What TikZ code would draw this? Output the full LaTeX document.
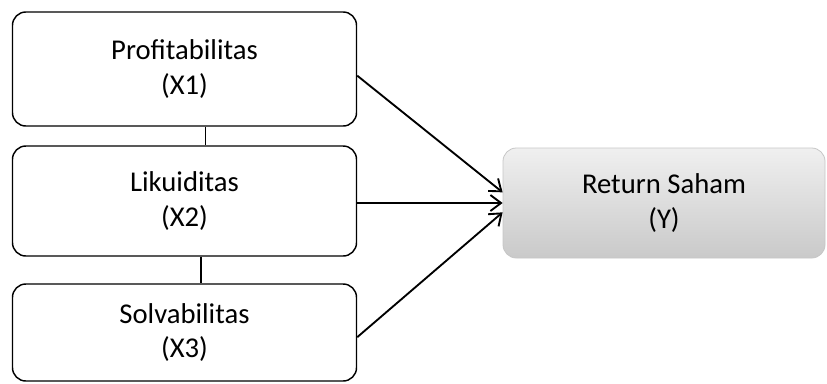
\documentclass[tikz,border=0pt]{standalone}
\usepackage{fontspec}
\setmainfont{Carlito}
\usetikzlibrary{arrows.meta}

\tikzset{
  varbox/.style={draw, line width=1.1pt, rounded corners=10pt, minimum width=258pt,
    align=center, inner sep=0pt, font=\fontsize{21.5}{26}\selectfont},
  resbox/.style={varbox, draw=gray!45, line width=0.6pt, top color=gray!12, bottom color=gray!42},
  link/.style={-{Straight Barb[length=8pt,width=12pt]}, line width=1.4pt},
}

\begin{document}
\begin{tikzpicture}[x=0.75pt,y=-0.75pt]  % one unit is one pixel of the reference
    \useasboundingbox (0,0) rectangle (827,383);

    % Draw the three independent variables
    \node[varbox, minimum height=85.5pt] (x1) at (184.5,69) {Profitabilitas\\(X1)};
    \node[varbox, minimum height=82.5pt] (x2) at (184.5,201) {Likuiditas\\(X2)};
    \node[varbox, minimum height=72.75pt] (x3) at (184.5,332.5) {Solvabilitas\\(X3)};

    % Draw the dependent variable
    \node[resbox, minimum width=241.5pt, minimum height=82.5pt] (y) at (664,203) {Return Saham\\(Y)};

    % Vertical ties between the boxes
    \draw[line width=0.9pt] ([xshift=16pt]x1.south) -- ([xshift=16pt]x2.north);
    \draw[line width=1.8pt] ([xshift=12.4pt]x2.south) -- ([xshift=12.4pt]x3.north);

    % Arrows into Return Saham
    \draw[link] ([yshift=-5pt]x1.east) -- ([yshift=8pt]y.west);
    \draw[link] ([yshift=-1.5pt]x2.east) -- (y.west);
    \draw[link] ([yshift=-3.5pt]x3.east) -- ([yshift=-7pt]y.west);

\end{tikzpicture}
\end{document}
